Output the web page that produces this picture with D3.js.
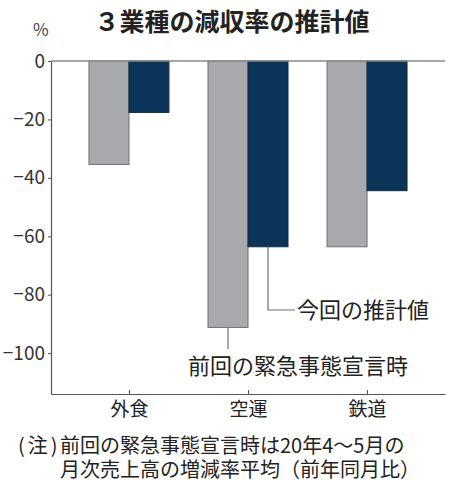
<!DOCTYPE html>
<html>
<head>
<meta charset="utf-8">
<script src="https://cdn.jsdelivr.net/npm/d3@7"></script>
<style>
  body { margin: 0; background: #fff; }
  text { font-family: "Noto Sans CJK JP", "Noto Sans", sans-serif; fill: #222; }
</style>
</head>
<body>
<div id="chart-area"></div>
<script>
// data
var categories = ["外食", "空運", "鉄道"];
var previous = [-35.4, -91.2, -63.6];   // 前回の緊急事態宣言時
var current = [-17.6, -63.6, -44.4];    // 今回の推計値
var yTicks = [0, -20, -40, -60, -80, -100];

var width = 458, height = 489;
var plotLeft = 51, plotRight = 445, plotTop = 61, plotBottom = 394;
var barW = 40;

var svg = d3.select("#chart-area").append("svg")
    .attr("width", width)
    .attr("height", height);

var x = d3.scalePoint()
    .domain(categories)
    .range([plotLeft, plotRight])
    .padding(0.655);

var y = d3.scaleLinear()
    .domain([0, -114])
    .range([plotTop, plotBottom]);

// title
svg.append("text")
    .attr("x", 232)
    .attr("y", 31)
    .attr("text-anchor", "middle")
    .attr("font-size", 25)
    .attr("font-weight", "bold")
    .text("３業種の減収率の推計値");

svg.append("text")
    .attr("x", 33)
    .attr("y", 36)
    .attr("font-size", 17)
    .style("fill", "#444")
    .text("%");

// bars
var rows = categories.map((c, i) => ({ cat: c, prev: previous[i], cur: current[i] }));

svg.selectAll("rect.prev")
    .data(rows)
    .enter()
    .append("rect")
        .attr("class", "prev")
        .attr("x", (d) => x(d.cat) - barW)
        .attr("y", y(0))
        .attr("width", barW)
        .attr("height", (d) => y(d.prev) - y(0))
        .attr("fill", "#a8a9ac")
        .attr("stroke", "#6f6f6f")
        .attr("stroke-width", 1);

svg.selectAll("rect.cur")
    .data(rows)
    .enter()
    .append("rect")
        .attr("class", "cur")
        .attr("x", (d) => x(d.cat))
        .attr("y", y(0))
        .attr("width", barW)
        .attr("height", (d) => y(d.cur) - y(0))
        .attr("fill", "#0b3459")
        .attr("stroke", "#1b2b3d")
        .attr("stroke-width", 1);

// zero line
svg.append("line")
    .attr("x1", plotLeft).attr("x2", plotRight)
    .attr("y1", y(0)).attr("y2", y(0))
    .attr("stroke", "#8a8a8a")
    .attr("stroke-width", 1.5);

// y axis
var yAxis = svg.append("g")
    .attr("transform", "translate(" + plotLeft + ",0)")
    .call(d3.axisLeft(y).tickValues(yTicks).tickSize(3).tickSizeOuter(0).tickPadding(3));
yAxis.select(".domain").attr("stroke", "#555").attr("stroke-width", 1.2);
yAxis.selectAll(".tick line").attr("stroke", "#555");
yAxis.selectAll(".tick text")
    .attr("font-size", 19)
    .attr("font-family", "'Noto Sans CJK JP', sans-serif")
    .style("fill", "#333");

// x axis
var xAxis = svg.append("g")
    .attr("transform", "translate(0," + plotBottom + ")")
    .call(d3.axisBottom(x).tickSize(-4).tickSizeOuter(0).tickPadding(8));
xAxis.select(".domain").attr("stroke", "#555").attr("stroke-width", 1.2);
xAxis.selectAll(".tick line").attr("stroke", "#555");
xAxis.selectAll(".tick text")
    .attr("font-size", 19)
    .attr("font-family", "'Noto Sans CJK JP', sans-serif")
    .style("fill", "#222");

// leader lines for the legend labels (空運 bars)
var lead = categories[1];
var cx = x(lead) + barW / 2;
var gx = x(lead) - barW / 2;

svg.append("path")
    .attr("d", "M" + cx + "," + y(current[1]) + "V310H295")
    .attr("fill", "none")
    .attr("stroke", "#6f6f6f")
    .attr("stroke-width", 1.2);

svg.append("text")
    .attr("x", 297)
    .attr("y", 310)
    .attr("dy", "0.36em")
    .attr("font-size", 22)
    .text("今回の推計値");

svg.append("path")
    .attr("d", "M" + gx + "," + y(previous[1]) + "V349")
    .attr("fill", "none")
    .attr("stroke", "#6f6f6f")
    .attr("stroke-width", 1.2);

svg.append("text")
    .attr("x", 188)
    .attr("y", 366)
    .attr("dy", "0.36em")
    .attr("font-size", 22)
    .text("前回の緊急事態宣言時");

// note
svg.append("text")
    .attr("x", 18)
    .attr("y", 453)
    .attr("font-size", 20)
    .attr("letter-spacing", 3)
    .text("(注)");
svg.append("text")
    .attr("x", 60)
    .attr("y", 453)
    .attr("font-size", 20)
    .text("前回の緊急事態宣言時は20年4～5月の");
svg.append("text")
    .attr("x", 60)
    .attr("y", 477)
    .attr("font-size", 20)
    .text("月次売上高の増減率平均（前年同月比）");
</script>
</body>
</html>
